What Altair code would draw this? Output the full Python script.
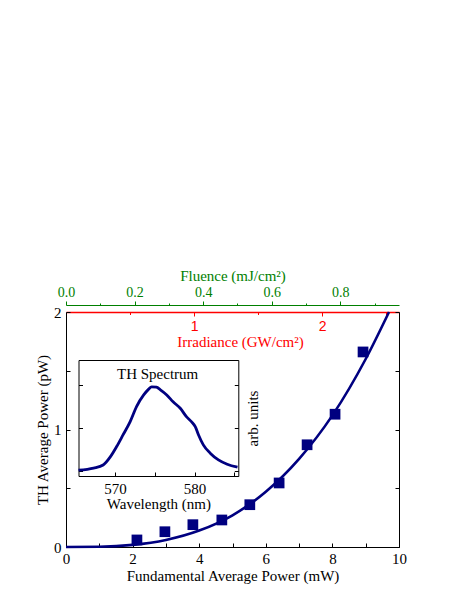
import altair as alt
import pandas as pd

# ---------------- data ----------------
power_mw = [2.13, 2.97, 3.81, 4.68, 5.52, 6.40, 7.24, 8.08, 8.92]
th_pw = [0.06, 0.13, 0.19, 0.23, 0.36, 0.545, 0.87, 1.13, 1.66]

fit_mw = [0, 1, 2, 3, 4, 5, 6, 7, 8, 9, 9.7]
fit_pw = [0, 0.002, 0.018, 0.06, 0.14, 0.27, 0.47, 0.75, 1.12, 1.60, 2.0]

wl_nm = [565.4, 567.3, 568.5, 569.4, 570.2, 571.0, 571.9, 572.7, 573.6, 574.2,
         574.6, 575.2, 575.7, 576.5, 577.3, 578.2, 579.0, 579.6, 580.1, 580.5,
         581.1, 582.0, 583.0, 584.1, 585.4]
spec_au = [0.03, 0.08, 0.15, 0.34, 0.58, 0.85, 1.16, 1.51, 1.78, 1.91,
           1.97, 1.96, 1.90, 1.78, 1.62, 1.47, 1.27, 1.16, 1.04, 0.85,
           0.62, 0.42, 0.27, 0.17, 0.10]

inset_label = ["TH Spectrum"]
inset_label_wl = [575.35]
inset_label_au = [2.27]

power_domain = [0, 10]
th_domain = [0, 2]
fluence_domain = [0, 0.971]
irr_domain = [0, 2.60]
wl_domain = [565.4, 585.5]
au_domain = [-0.105, 2.593]

x_ticks = list(range(0, 11))
y_ticks = [0, 0.5, 1, 1.5, 2]
fluence_major = [0.0, 0.2, 0.4, 0.6, 0.8]
fluence_minor = [0.1, 0.3, 0.5, 0.7, 0.9]
irr_major = [1, 2]
irr_minor = [0.5, 1.5, 2.5]
wl_ticks = [570, 575, 580, 585]
wl_labels = [570, 580]
au_ticks = [0, 1, 2]

# ---------------- layout / style ----------------
W, H = 333, 235
NAVY = "#000080"
GREEN = "#008000"
RED = "#ff0000"
SERIF = "Liberation Serif"
# inset placement inside the plot (pixels)
IN_X = [12.5, 172.3]
IN_Y = [164, 48]

main_df = pd.DataFrame({"x": power_mw, "y": th_pw})
fit_df = pd.DataFrame({"x": fit_mw, "y": fit_pw})
spec_df = pd.DataFrame({"x": wl_nm, "y": spec_au})
lab_df = pd.DataFrame({"x": inset_label_wl, "y": inset_label_au, "t": inset_label})
frame_df = pd.DataFrame({"x": power_domain, "y": th_domain})
flu_df = pd.DataFrame({"x": fluence_domain})
irr_df = pd.DataFrame({"x": irr_domain})
inset_df = pd.DataFrame({"x": wl_domain, "y": au_domain})


def sx():
    return alt.Scale(domain=power_domain, nice=False, zero=False)


def sy():
    return alt.Scale(domain=th_domain, nice=False, zero=False)


def iscx():
    return alt.Scale(domain=wl_domain, range=IN_X, nice=False, zero=False)


def iscy():
    return alt.Scale(domain=au_domain, range=IN_Y, nice=False, zero=False)


def bare(**kw):
    base = dict(ticks=False, tickSize=0, labels=False, title=None, domain=False, grid=False)
    base.update(kw)
    return alt.Axis(**base)


# main points: bottom & left inward ticks + labels + titles
pts = alt.Chart(main_df).mark_square(size=115, color=NAVY, opacity=1).encode(
    x=alt.X("x:Q", scale=sx(), axis=alt.Axis(
        orient="bottom", offset=-4, tickSize=4, domain=False, values=x_ticks,
        labelExpr="datum.value % 2 == 0 ? format(datum.value, 'd') : ''",
        labelFlush=False, labelOverlap=False, labelPadding=4,
        title="Fundamental Average Power (mW)", titlePadding=2)),
    y=alt.Y("y:Q", scale=sy(), axis=alt.Axis(
        orient="left", offset=-4, tickSize=4, domain=False, values=y_ticks,
        labelExpr="datum.value % 1 == 0 ? format(datum.value, 'd') : ''",
        labelFlush=False, labelOverlap=False, labelPadding=5,
        title="TH Average Power (pW)", titlePadding=3)),
)

# fit line: right inward ticks
fit = alt.Chart(fit_df).mark_line(color=NAVY, strokeWidth=2.6, interpolate="monotone").encode(
    x=alt.X("x:Q", scale=sx(), axis=None),
    y=alt.Y("y:Q", scale=sy(), axis=alt.Axis(
        orient="right", offset=-4, tickSize=4, domain=False, values=y_ticks,
        labels=False, title=None)),
)

# main frame: bottom + left
frame1 = alt.Chart(frame_df).mark_point(opacity=0).encode(
    x=alt.X("x:Q", scale=sx(), axis=bare(orient="bottom", domain=True, domainWidth=1)),
    y=alt.Y("y:Q", scale=sy(), axis=bare(orient="left", domain=True, domainWidth=1)),
)
# main frame: right
frame2 = alt.Chart(frame_df).mark_point(opacity=0).encode(
    x=alt.X("x:Q", scale=sx(), axis=None),
    y=alt.Y("y:Q", scale=sy(), axis=bare(orient="right", domain=True, domainWidth=1)),
)

# red irradiance axis (drawn along the top edge, labels inside)
irr_major_l = alt.Chart(irr_df).mark_point(opacity=0).encode(
    x=alt.X("x:Q", scale=alt.Scale(domain=irr_domain, nice=False, zero=False), axis=alt.Axis(
        orient="bottom", offset=-H, tickSize=4, values=irr_major, domain=True,
        domainColor=RED, domainWidth=1.5, tickColor=RED, labelColor=RED,
        labelFont="Liberation Sans", labelFontSize=14, format="d",
        labelFlush=False, labelPadding=3,
        title="Irradiance (GW/cm²)", titleColor=RED, titlePadding=1, titleX=174)),
)
irr_minor_l = alt.Chart(irr_df).mark_point(opacity=0).encode(
    x=alt.X("x:Q", scale=alt.Scale(domain=irr_domain, nice=False, zero=False), axis=alt.Axis(
        orient="bottom", offset=-H, tickSize=2.5, values=irr_minor, domain=False,
        tickColor=RED, labels=False, title=None)),
)

# green fluence axis (above the plot)
flu_major_l = alt.Chart(flu_df).mark_point(opacity=0).encode(
    x=alt.X("x:Q", scale=alt.Scale(domain=fluence_domain, nice=False, zero=False), axis=alt.Axis(
        orient="top", offset=7, tickSize=4, values=fluence_major, domain=True,
        domainColor=GREEN, tickColor=GREEN, labelColor=GREEN, format=".1f",
        labelFontSize=14, labelFlush=False, labelPadding=2,
        title="Fluence (mJ/cm²)", titleColor=GREEN, titlePadding=2)),
)
flu_minor_l = alt.Chart(flu_df).mark_point(opacity=0).encode(
    x=alt.X("x:Q", scale=alt.Scale(domain=fluence_domain, nice=False, zero=False), axis=alt.Axis(
        orient="top", offset=7, tickSize=2, values=fluence_minor, domain=False,
        tickColor=GREEN, labels=False, title=None)),
)

# inset: spectrum line with bottom/left frame, labels, title
spec = alt.Chart(spec_df).mark_line(color=NAVY, strokeWidth=2.8, interpolate="monotone").encode(
    x=alt.X("x:Q", scale=iscx(), axis=alt.Axis(
        orient="bottom", offset=IN_Y[0] - H, ticks=False, tickSize=0, domain=True,
        values=wl_labels, format="d", labelFlush=False, labelPadding=5,
        title="Wavelength (nm)", titlePadding=0)),
    y=alt.Y("y:Q", scale=iscy(), axis=bare(orient="left", offset=-IN_X[0], domain=True)),
)
# inset: top / right frame, right title
inset_frame = alt.Chart(inset_df).mark_point(opacity=0).encode(
    x=alt.X("x:Q", scale=iscx(), axis=bare(orient="top", offset=-IN_Y[1], domain=True)),
    y=alt.Y("y:Q", scale=iscy(), axis=bare(
        orient="right", offset=-(W - IN_X[1]), domain=True,
        title="arb. units", titleAngle=270, titleBaseline="top", titlePadding=7)),
)
# inset: inward ticks bottom/left
inset_ticks1 = alt.Chart(inset_df).mark_point(opacity=0).encode(
    x=alt.X("x:Q", scale=iscx(), axis=alt.Axis(
        orient="bottom", offset=IN_Y[0] - H - 4, tickSize=4, values=wl_ticks,
        domain=False, labels=False, title=None)),
    y=alt.Y("y:Q", scale=iscy(), axis=alt.Axis(
        orient="left", offset=-(IN_X[0] + 4), tickSize=4, values=au_ticks,
        domain=False, labels=False, title=None)),
)
# inset: inward ticks right
inset_ticks2 = alt.Chart(inset_df).mark_point(opacity=0).encode(
    x=alt.X("x:Q", scale=iscx(), axis=None),
    y=alt.Y("y:Q", scale=iscy(), axis=alt.Axis(
        orient="right", offset=-(W - IN_X[1] + 4), tickSize=4, values=au_ticks,
        domain=False, labels=False, title=None)),
)
# inset label
inset_text = alt.Chart(lab_df).mark_text(font=SERIF, fontSize=15, color="black").encode(
    x=alt.X("x:Q", scale=iscx(), axis=None),
    y=alt.Y("y:Q", scale=iscy(), axis=None),
    text="t:N",
)

chart = alt.layer(
    frame1, frame2, irr_minor_l, irr_major_l, flu_minor_l, flu_major_l,
    inset_frame, inset_ticks1, inset_ticks2, spec, inset_text, fit, pts,
).resolve_scale(
    x="independent", y="independent"
).resolve_axis(
    x="independent", y="independent"
).properties(
    width=W, height=H,
    autosize=alt.AutoSizeParams(type="none"),
    padding={"left": 58, "top": 304, "right": 56, "bottom": 44},
).configure_view(
    stroke=None
).configure_axis(
    labelFont=SERIF, titleFont=SERIF, labelFontSize=15, titleFontSize=15,
    titleFontWeight="normal", labelColor="black", titleColor="black",
    tickColor="black", domainColor="black", grid=False,
)

chart.save("out.html", embed_options={"renderer": "svg", "actions": False})
